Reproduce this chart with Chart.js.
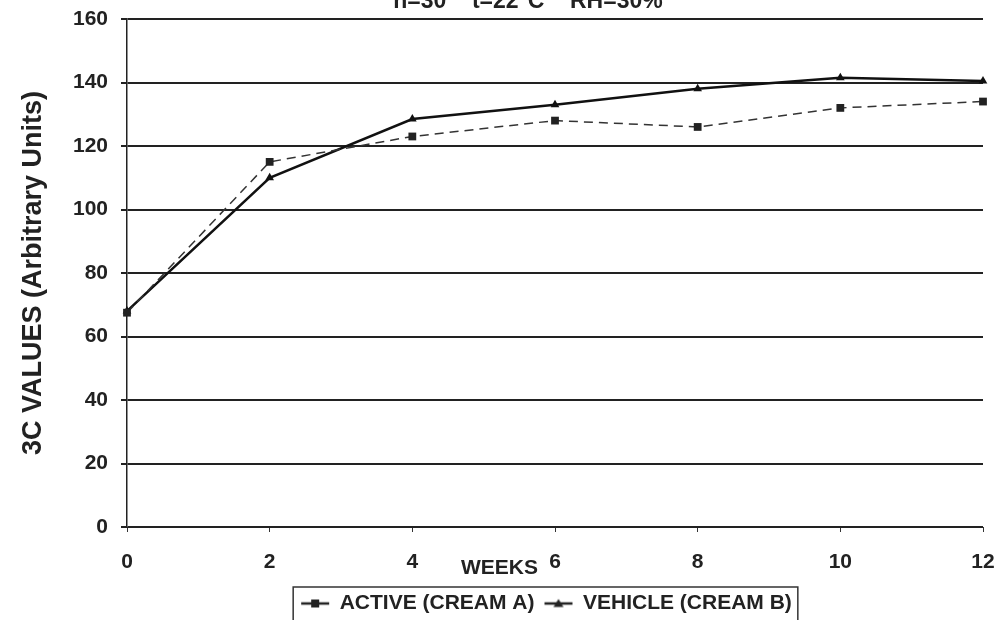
<!DOCTYPE html>
<html>
<head>
<meta charset="utf-8">
<script src="https://cdn.jsdelivr.net/npm/chart.js@4.4.0/dist/chart.umd.min.js"></script>
<style>
  html, body { margin: 0; padding: 0; background: #fff; }
  #wrap { width: 998px; height: 620px; }
</style>
</head>
<body>
<div id="wrap"><canvas id="myChart"></canvas></div>
<script>
// data
const weeks = [0, 2, 4, 6, 8, 10, 12];
const activeValues = [67.5, 115, 123, 128, 126, 132, 134];
const vehicleValues = [68, 110, 128.5, 133, 138, 141.5, 140.5];
const yTicks = [0, 20, 40, 60, 80, 100, 120, 140, 160];

const FONT = "'Liberation Sans', Arial, sans-serif";
const INK = "#222";
const LEGEND_SHIFT = 55;

// legend marker: short line with the point symbol on it
const makeMarker = (kind) => {
  const c = document.createElement("canvas");
  c.width = 30;
  c.height = 12;
  const g = c.getContext("2d");
  g.strokeStyle = INK;
  g.fillStyle = INK;
  g.lineWidth = 2.5;
  g.beginPath();
  g.moveTo(1, 6);
  g.lineTo(29, 6);
  g.stroke();
  if (kind === "rect") {
    g.fillRect(11, 2, 8, 8);
  } else {
    g.beginPath();
    g.moveTo(15, 1.5);
    g.lineTo(20, 9.5);
    g.lineTo(10, 9.5);
    g.closePath();
    g.fill();
  }
  return c;
};

const data = {
  datasets: [
    {
      label: "ACTIVE (CREAM A)",
      data: weeks.map((w, i) => ({ x: w, y: activeValues[i] })),
      borderColor: "#333",
      backgroundColor: INK,
      borderWidth: 1.5,
      borderDash: [9, 6],
      pointStyle: "rect",
      pointRadius: 5.5,
      pointBorderWidth: 0,
      clip: false,
      legendMarker: makeMarker("rect"),
    },
    {
      label: "VEHICLE (CREAM B)",
      data: weeks.map((w, i) => ({ x: w, y: vehicleValues[i] })),
      borderColor: "#111",
      backgroundColor: "#111",
      borderWidth: 2.5,
      pointStyle: "triangle",
      pointRadius: 5,
      pointBorderWidth: 0,
      clip: false,
      legendMarker: makeMarker("triangle"),
    },
  ],
};

// title clipped at the top edge, "WEEKS" next to the 6, frame round the legend
const extras = {
  id: "extras",
  afterLayout(chart) {
    // legend sits right of centre in the original
    const lg = chart.legend;
    lg.left += LEGEND_SHIFT;
    lg.right += LEGEND_SHIFT;
    (lg.legendHitBoxes || []).forEach((b) => {
      b.left += LEGEND_SHIFT;
    });
  },
  afterDraw(chart) {
    const { ctx, scales, legend } = chart;
    ctx.save();
    ctx.fillStyle = INK;
    ctx.font = "bold 23px " + FONT;
    ctx.textAlign = "center";
    ctx.textBaseline = "alphabetic";
    ctx.fillText("n=30    t=22°C    RH=30%", 528, 8);

    ctx.font = "bold 21px " + FONT;
    ctx.textAlign = "right";
    ctx.fillText("WEEKS", scales.x.getPixelForValue(6) - 17, 574);

    const boxes = legend.legendHitBoxes;
    if (boxes && boxes.length) {
      const first = boxes[0];
      const last = boxes[boxes.length - 1];
      ctx.strokeStyle = "#333";
      ctx.lineWidth = 1.5;
      ctx.strokeRect(first.left - 8, first.top - 6, last.left + last.width - first.left + 14, 60);
    }
    ctx.restore();
  },
};

const config = {
  type: "line",
  data: data,
  options: {
    responsive: true,
    maintainAspectRatio: false,
    animation: false,
    layout: {
      padding: { top: 19, right: 15, bottom: -4, left: 0 },
    },
    scales: {
      x: {
        type: "linear",
        min: 0,
        max: 12,
        afterFit: (s) => {
          s.height = 56;
          s.paddingLeft = 0;
          s.paddingRight = 0;
        },
        afterBuildTicks: (s) => {
          s.ticks = weeks.map((v) => ({ value: v }));
        },
        grid: {
          drawOnChartArea: false,
          drawTicks: true,
          tickLength: 5,
          color: "#333",
          lineWidth: 1,
        },
        border: { display: false },
        ticks: {
          padding: 18,
          maxRotation: 0,
          color: INK,
          font: { family: FONT, size: 21, weight: "bold" },
        },
      },
      y: {
        min: 0,
        max: 160,
        afterFit: (s) => {
          s.width = 127;
          s.paddingTop = 0;
          s.paddingBottom = 0;
        },
        afterBuildTicks: (s) => {
          s.ticks = yTicks.map((v) => ({ value: v }));
        },
        grid: {
          color: "#222",
          lineWidth: 2,
          drawTicks: true,
          tickLength: 6,
        },
        border: { display: true, color: "#222", width: 1.5 },
        ticks: {
          padding: 13,
          color: INK,
          font: { family: FONT, size: 21, weight: "bold" },
        },
        title: {
          display: true,
          text: "3C VALUES (Arbitrary Units)",
          color: INK,
          padding: { top: 17, bottom: 0 },
          font: { family: FONT, size: 27, weight: "bold" },
        },
      },
    },
    plugins: {
      legend: {
        display: true,
        position: "bottom",
        labels: {
          usePointStyle: true,
          pointStyleWidth: 28,
          padding: 10,
          color: INK,
          font: { family: FONT, size: 21, weight: "bold" },
          generateLabels: (chart) =>
            chart.data.datasets.map((ds, i) => ({
              text: ds.label,
              pointStyle: ds.legendMarker,
              fillStyle: INK,
              strokeStyle: INK,
              lineWidth: 0,
              fontColor: INK,
              hidden: false,
              datasetIndex: i,
            })),
        },
      },
      title: { display: false },
      tooltip: { enabled: false },
    },
  },
  plugins: [extras],
};

const ctx = document.getElementById("myChart").getContext("2d");
new Chart(ctx, config);
</script>
</body>
</html>
